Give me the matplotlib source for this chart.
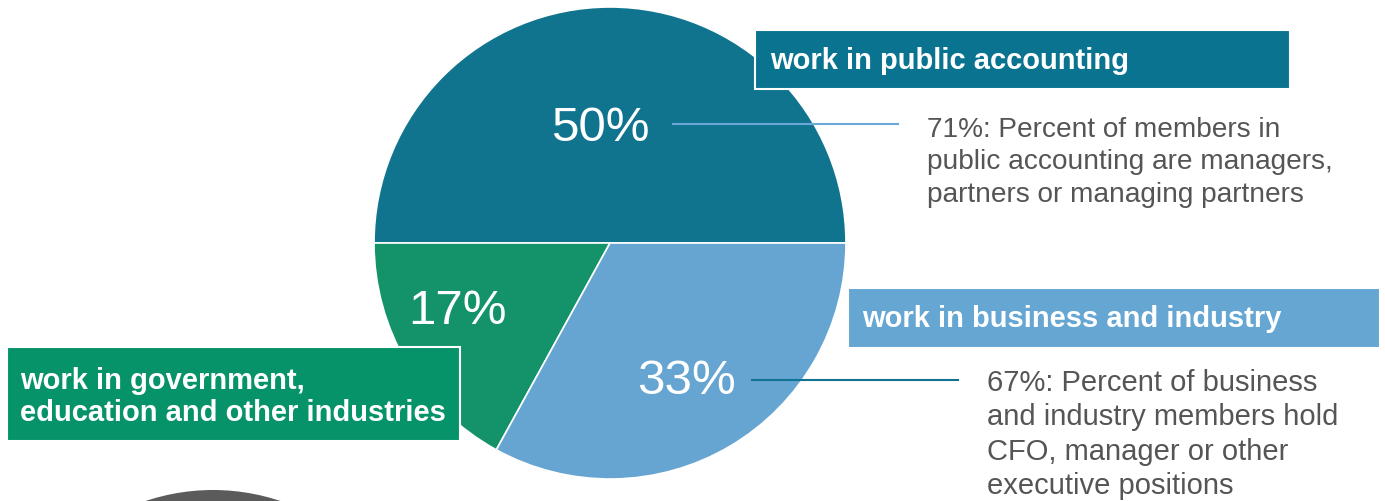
import numpy as np
import matplotlib.pyplot as plt
from matplotlib.patches import Rectangle, Circle

# --------------------------------------------------------------------------- #
# Data
# --------------------------------------------------------------------------- #
shares = [50, 17, 33]
segments = ['work in public accounting',
            'work in government,\neducation and other industries',
            'work in business and industry']
colors = ['#11748F', '#14936A', '#66A5D2']
box_colors = ['#0A7390', '#079369', '#66A6D3']
notes = ['71%: Percent of members in\npublic accounting are managers,\npartners or managing partners',
         '67%: Percent of business\nand industry members hold\nCFO, manager or other\nexecutive positions']

W, H = 1385, 501
plt.rcParams['font.family'] = ['Liberation Sans', 'DejaVu Sans']

def Y(y):
  # pixel rows are measured from the top
  return H - y

fig = plt.figure(figsize=(W / 100.0, H / 100.0), dpi=100)
ax = fig.add_axes([0, 0, 1, 1])

# --------------------------------------------------------------------------- #
# Pie
# --------------------------------------------------------------------------- #
ax.pie(shares, colors=colors, startangle=0, counterclock=True,
       center=(610, Y(243)), radius=236,
       wedgeprops=dict(edgecolor='white', linewidth=1.2))

pct_pos = [(600, 128), (458, 311), (686, 382)]
for s, (x, y) in zip(shares, pct_pos):
  ax.text(x, Y(y), "{}%".format(s), color='white', fontsize=35.5,
          ha='center', va='center')

# grey shape peeking in at the bottom
ax.add_patch(Circle((213, Y(702)), 212, facecolor='#5B5B5B', edgecolor='none'))

# --------------------------------------------------------------------------- #
# Label boxes
# --------------------------------------------------------------------------- #
boxes = [(755, 30, 1290, 89), (7, 347, 460, 441), (848, 288, 1380, 348)]
text_pos = [(770, 61), (20, 397), (862, 319)]
for (x0, y0, x1, y1), (tx, ty), lab, c in zip(boxes, text_pos, segments, box_colors):
  ax.add_patch(Rectangle((x0, Y(y1)), x1 - x0, y1 - y0, facecolor=c,
                         edgecolor='white', linewidth=1.5, zorder=3))
  ax.text(tx, Y(ty), lab, color='white', fontsize=21, fontweight='bold',
          ha='left', va='center', linespacing=1.17, zorder=4)

# --------------------------------------------------------------------------- #
# Leader lines and notes
# --------------------------------------------------------------------------- #
ax.plot([673, 898], [Y(124), Y(124)], color='#6AA8D8', linewidth=1.5, zorder=2)
ax.plot([752, 958], [Y(380), Y(380)], color='#0F7391', linewidth=1.5, zorder=2)

ax.text(927, Y(117), notes[0], color='#555555', fontsize=20.2,
        ha='left', va='top', linespacing=1.32)
ax.text(987, Y(369), notes[1], color='#555555', fontsize=21,
        ha='left', va='top', linespacing=1.29)

ax.set_xlim(0, W)
ax.set_ylim(0, H)
ax.set_aspect('auto')
ax.axis('off')

plt.savefig('out.png', dpi=100)
